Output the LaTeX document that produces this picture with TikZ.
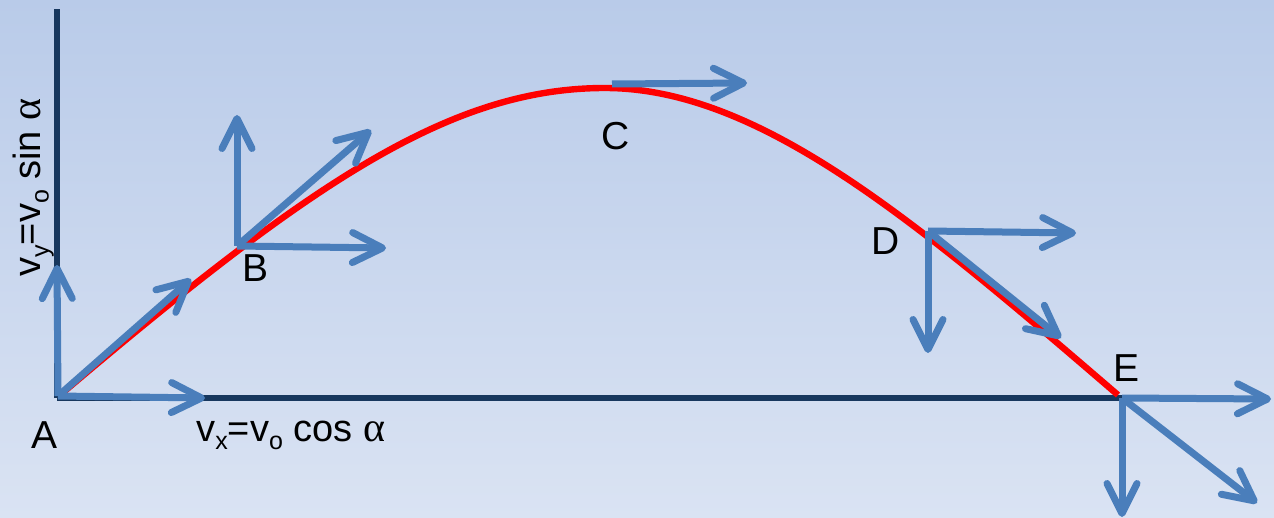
\documentclass[tikz,border=0pt]{standalone}
\usepackage{fontspec}
\setmainfont{Liberation Sans}
\newfontfamily\greekfont{Liberation Serif}
\usetikzlibrary{arrows.meta}
\definecolor{axisc}{HTML}{17375E}
\definecolor{vecc}{HTML}{4A7EBB}
\definecolor{bgtop}{HTML}{B9CBE9}
\definecolor{bgbot}{HTML}{DAE3F3}
\newcommand\lowsub[1]{\raisebox{-4.3pt}{\fontsize{12.5pt}{12.5pt}\selectfont #1}}
\newcommand\galpha{{\greekfont\fontsize{21pt}{21pt}\selectfont α}}
\begin{document}
\begin{tikzpicture}[x=0.5pt,y=-0.5pt,
  vec/.style={draw=vecc, line width=3.5pt, line cap=butt,
    -{Straight Barb[length=15pt,width=15pt,round]}},
  axisline/.style={draw=axisc, line width=2.6pt},
  trajectory/.style={draw=red, line width=3.2pt},
  ptlabel/.style={font=\fontsize{19.5pt}{19.5pt}\selectfont, text=black, inner sep=0pt},
  formula/.style={font=\fontsize{19pt}{19pt}\selectfont, text=black, inner sep=0pt}]
% background
\shade[top color=bgtop, bottom color=bgbot] (0,0) rectangle (1274,518);
\useasboundingbox (0,0) rectangle (1274,518);
% points
\coordinate (O) at (57,398);
\coordinate (Ytop) at (57,9);
\coordinate (Xend) at (1122,398);
\coordinate (A) at (58,396);
\coordinate (B) at (237,246);
\coordinate (C) at (612,84);
\coordinate (D) at (928,231);
\coordinate (E) at (1122,398);
% arrow tips
\coordinate (Aup) at (57,265);
\coordinate (Ax) at (205,398);
\coordinate (Ad) at (191,279);
\coordinate (Bup) at (237,115);
\coordinate (Bx) at (386,248);
\coordinate (Bd) at (371,130);
\coordinate (Cx) at (747,83);
\coordinate (Dx) at (1076,233);
\coordinate (Ddown) at (928,353);
\coordinate (Dd) at (1061,338);
\coordinate (Ex) at (1271,399);
\coordinate (Edown) at (1122,517);
\coordinate (Ed) at (1257,503);
% trajectory end points
\coordinate (T0) at (60,395);
\coordinate (T1) at (605,88);
\coordinate (T2) at (1118,395);
% axes
\draw[axisline] (O) -- (Ytop);
\draw[axisline] (O) -- (Xend);
% trajectory
\draw[trajectory] (T0) .. controls (310,183) and (450,88) .. (T1)
  .. controls (760,88) and (918,223) .. (T2);
% velocity vectors
\draw[vec] (A) -- (Aup);
\draw[vec] (A) -- (Ax);
\draw[vec] (A) -- (Ad);
\draw[vec] (B) -- (Bup);
\draw[vec] (B) -- (Bx);
\draw[vec] (B) -- (Bd);
\draw[vec] (C) -- (Cx);
\draw[vec] (D) -- (Dx);
\draw[vec] (D) -- (Ddown);
\draw[vec] (D) -- (Dd);
\draw[vec] (E) -- (Ex);
\draw[vec] (E) -- (Edown);
\draw[vec] (E) -- (Ed);
% labels
\node[ptlabel] (lA) at (45,435) {A};
\node[ptlabel] (lB) at (256,268) {B};
\node[ptlabel] (lC) at (616,136) {C};
\node[ptlabel] (lD) at (886,241) {D};
\node[ptlabel] (lE) at (1126,368) {E};
\node[formula, anchor=base west] (vx) at (196,441) {v\lowsub{x}=v\lowsub{o} cos \galpha};
\node[formula, rotate=90, anchor=base west] (vy) at (40,277) {v\lowsub{y}=v\lowsub{o} sin \galpha};
\end{tikzpicture}
\end{document}
